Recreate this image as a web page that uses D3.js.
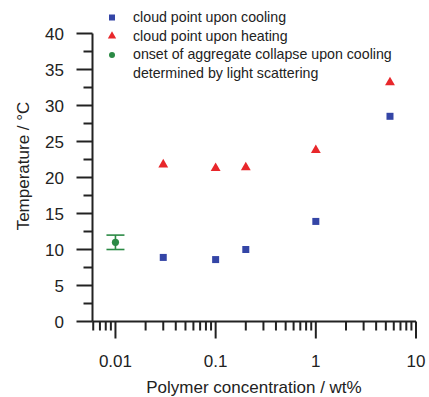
<!DOCTYPE html>
<html><head><meta charset="utf-8">
<script src="https://cdn.jsdelivr.net/npm/d3@7"></script>
<style>body{margin:0;background:#fff;} text{font-family:"Liberation Sans",Arial,sans-serif;fill:#222;}</style>
</head><body>
<svg id="c" width="429" height="397"></svg>
<script>
const coolingX = [0.03, 0.1, 0.2, 1, 5.5];
const coolingY = [8.9, 8.6, 10.0, 13.9, 28.5];
const heatingX = [0.03, 0.1, 0.2, 1, 5.5];
const heatingY = [21.8, 21.3, 21.4, 23.8, 33.2];
const lsX = [0.01];
const lsY = [11.0];
const lsErr = [1.0];
const xTicks = [0.01, 0.1, 1, 10];
const xTickLabels = ["0.01", "0.1", "1", "10"];
const yTicks = [0, 5, 10, 15, 20, 25, 30, 35, 40];
const legendLabels = ["cloud point upon cooling", "cloud point upon heating", "onset of aggregate collapse upon cooling", "determined by light scattering"];
const colors = {cool: "#3445a6", heat: "#e8272b", ls: "#2b8a45"};

const svg = d3.select("#c");
const x = d3.scaleLog().domain([0.0059, 10]).range([92.5, 416]);
const y = d3.scaleLinear().domain([0, 40]).range([321.5, 33.5]);

// axes
const ax = svg.append("g").attr("stroke", "#222").attr("stroke-width", 2).attr("fill", "none");
ax.append("line").attr("x1", x.range()[0]).attr("x2", x.range()[1]).attr("y1", y(0)).attr("y2", y(0));
ax.append("line").attr("x1", x.range()[0]).attr("x2", x.range()[0]).attr("y1", y(0)).attr("y2", y(40));

// x minor ticks
const minor = [];
[0.001, 0.01, 0.1, 1].forEach(d => { for (let k = 2; k <= 9; k++) { const v = d * k; if (v >= 0.0059 && v < 10) minor.push(v); } });
ax.selectAll(".xm").data(minor).join("line")
  .attr("x1", d => x(d)).attr("x2", d => x(d)).attr("y1", y(0)).attr("y2", y(0) + 9);
ax.selectAll(".xM").data(xTicks).join("line")
  .attr("x1", d => x(d)).attr("x2", d => x(d)).attr("y1", y(0)).attr("y2", y(0) + 17);
// y ticks
ax.selectAll(".yM").data(yTicks).join("line")
  .attr("x1", x.range()[0] - 16).attr("x2", x.range()[0]).attr("y1", d => y(d)).attr("y2", d => y(d));
ax.selectAll(".ym").data(yTicks.slice(0, -1).map(d => d + 2.5)).join("line")
  .attr("x1", x.range()[0] - 9).attr("x2", x.range()[0]).attr("y1", d => y(d)).attr("y2", d => y(d));

svg.selectAll(".xl").data(xTicks).join("text")
  .attr("x", d => x(d)).attr("y", 367).attr("text-anchor", "middle").attr("font-size", 17)
  .text((d, i) => xTickLabels[i]);
svg.selectAll(".yl").data(yTicks).join("text")
  .attr("x", 64).attr("y", d => y(d)).attr("dy", "0.36em").attr("text-anchor", "end").attr("font-size", 17)
  .text(d => d);

svg.append("text").attr("x", 254).attr("y", 393).attr("text-anchor", "middle").attr("font-size", 17)
  .text("Polymer concentration / wt%");
svg.append("text").attr("transform", "translate(29,166) rotate(-90)").attr("text-anchor", "middle").attr("font-size", 17)
  .text("Temperature / °C");

// data
svg.selectAll(".cool").data(coolingX).join("rect")
  .attr("x", d => x(d) - 3.5).attr("y", (d, i) => y(coolingY[i]) - 3.5).attr("width", 7).attr("height", 7)
  .attr("fill", colors.cool);
const tri = d3.symbol().type(d3.symbolTriangle).size(42);
svg.selectAll(".heat").data(heatingX).join("path")
  .attr("d", tri).attr("transform", (d, i) => `translate(${x(d)},${y(heatingY[i])})`).attr("fill", colors.heat);
const eg = svg.append("g").attr("stroke", colors.ls).attr("stroke-width", 1.6);
lsX.forEach((d, i) => {
  eg.append("line").attr("x1", x(d)).attr("x2", x(d)).attr("y1", y(lsY[i] - lsErr[i])).attr("y2", y(lsY[i] + lsErr[i]));
  eg.append("line").attr("x1", x(d) - 9).attr("x2", x(d) + 9).attr("y1", y(lsY[i] - lsErr[i])).attr("y2", y(lsY[i] - lsErr[i]));
  eg.append("line").attr("x1", x(d) - 9).attr("x2", x(d) + 9).attr("y1", y(lsY[i] + lsErr[i])).attr("y2", y(lsY[i] + lsErr[i]));
});
svg.selectAll(".ls").data(lsX).join("circle")
  .attr("cx", d => x(d)).attr("cy", (d, i) => y(lsY[i])).attr("r", 3.6).attr("fill", colors.ls);

// legend
const lg = svg.append("g");
lg.append("rect").attr("x", 109).attr("y", 14.5).attr("width", 6).attr("height", 6).attr("fill", colors.cool);
lg.append("path").attr("d", d3.symbol().type(d3.symbolTriangle).size(30)).attr("transform", "translate(112,36)").attr("fill", colors.heat);
lg.append("circle").attr("cx", 112).attr("cy", 55).attr("r", 3).attr("fill", colors.ls);
lg.selectAll("text").data(legendLabels).join("text")
  .attr("x", 133).attr("y", (d, i) => 22 + i * 18.6).attr("font-size", 14.2).text(d => d);
</script>
</body></html>
